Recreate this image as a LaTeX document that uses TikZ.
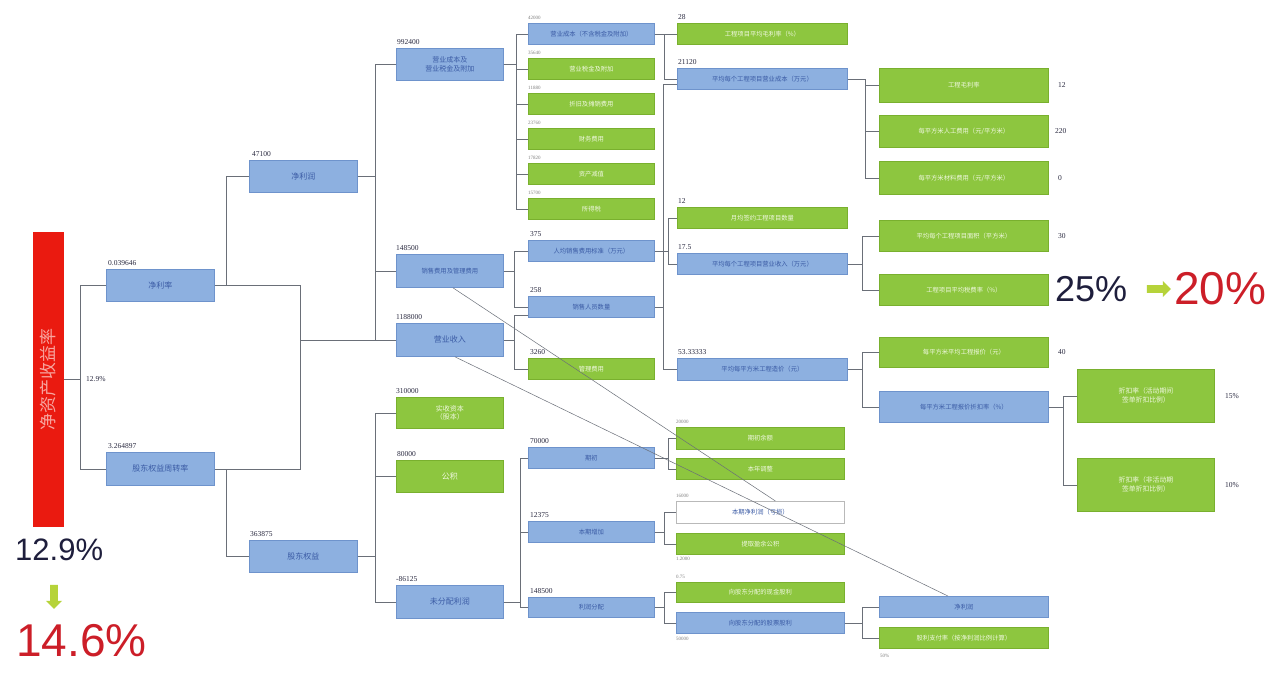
\documentclass[tikz,border=0pt]{standalone}
\usepackage{fontspec}
\setmainfont{Liberation Serif}
\newfontfamily\cjk{Noto Sans CJK SC}
\newfontfamily\arialf{Liberation Sans}
\usetikzlibrary{shapes.arrows,calc}
\definecolor{bfill}{HTML}{8DB0E0}
\definecolor{bdraw}{HTML}{6E93CC}
\definecolor{btext}{HTML}{3B5BA5}
\definecolor{gfill}{HTML}{8DC63F}
\definecolor{gdraw}{HTML}{79B02E}
\definecolor{gtext}{HTML}{F0F8E0}
\definecolor{redbar}{HTML}{EA1A10}
\definecolor{redtext}{HTML}{F7A6A0}
\definecolor{numc}{HTML}{2A2A40}
\definecolor{linec}{HTML}{6A6F78}
\definecolor{bigred}{HTML}{CC1E28}
\definecolor{bignavy}{HTML}{1E1E3C}
\definecolor{arrowg}{HTML}{B6D33A}
\begin{document}
\begin{tikzpicture}[x=1pt,y=-1pt,
  box/.style={draw, line width=0.8pt, inner sep=1pt, anchor=north west, align=center},
  bb/.style={box, fill=bfill, draw=bdraw, text=btext},
  gb/.style={box, fill=gfill, draw=gdraw, text=gtext},
  wb/.style={box, fill=white, draw=gray!55, text=btext},
  sz/.style 2 args={minimum width=#1pt, minimum height=#2pt},
  fa/.style={font=\cjk\fontsize{8}{9.5}\selectfont},
  fb/.style={font=\cjk\fontsize{6.3}{7.5}\selectfont},
  lab/.style={anchor=south west, inner sep=0, font=\fontsize{7.5}{8}\selectfont, text=numc},
  tlab/.style={anchor=south west, inner sep=0, font=\fontsize{5}{5}\selectfont, text=gray},
  val/.style={anchor=west, inner sep=0, font=\fontsize{7.5}{8}\selectfont, text=numc},
  conn/.style={draw=linec, line width=0.6pt},
  diag/.style={draw=linec, line width=0.5pt},
  big/.style={anchor=west, inner sep=0, font=\arialf\fontsize{#1}{#1}\selectfont},
  garrow/.style={single arrow, fill=arrowg, draw=none, minimum height=#1pt, minimum width=16pt, single arrow head extend=3.5pt, inner sep=3.2pt}
]
\useasboundingbox (0,0) rectangle (1280,676);
\fill[white] (0,0) rectangle (1280,676);

% bracket x positions
\coordinate (bx0) at (80,0);
\coordinate (bx1) at (226,0);
\coordinate (bx2) at (300,0);
\coordinate (bx3) at (375,0);
\coordinate (bx4) at (516,0);
\coordinate (bx5) at (514,0);
\coordinate (bx6) at (520,0);
\coordinate (bx7) at (664,0);
\coordinate (bx8) at (668,0);
\coordinate (bx9) at (663,0);
\coordinate (bx11) at (865,0);
\coordinate (bx12) at (862,0);
\coordinate (bx13) at (1063,0);

% root
\node[fill=redbar, rotate=90, minimum width=295pt, minimum height=31pt, inner sep=0, text=redtext,
      font=\cjk\fontsize{17}{17}\selectfont] (roe) at (48.5,379.5) {净资产收益率};
\node[val] (roev) at (86,379) {12.9\%};

% level 1
\node[bb, sz={108}{32}, fa] (A) at (106,269) {净利率};
\node[lab] (Al) at (108,266) {0.039646};
\node[bb, sz={108}{33}, fa] (B) at (106,452) {股东权益周转率};
\node[lab] (Bl) at (108,449) {3.264897};

% level 2
\node[bb, sz={108}{32}, fa] (np) at (249,160) {净利润};
\node[lab] (npl) at (252,157) {47100};
\node[bb, sz={108}{32}, fa] (eq) at (249,540) {股东权益};
\node[lab] (eql) at (250,537) {363875};

% level 3
\node[bb, sz={107}{32}, font=\cjk\fontsize{7}{8.5}\selectfont] (c1) at (396,48) {营业成本及\\营业税金及附加};
\node[lab] (c1l) at (397,45) {992400};
\node[bb, sz={107}{33}, fb] (c2) at (396,254) {销售费用及管理费用};
\node[lab] (c2l) at (396,251) {148500};
\node[bb, sz={107}{33}, fa] (rev) at (396,323) {营业收入};
\node[lab] (revl) at (396,320) {1188000};
\node[gb, sz={107}{31}, font=\cjk\fontsize{7}{8.5}\selectfont] (c4) at (396,397) {实收资本\\（股本）};
\node[lab] (c4l) at (396,394) {310000};
\node[gb, sz={107}{32}, fa] (c5) at (396,460) {公积};
\node[lab] (c5l) at (397,457) {80000};
\node[bb, sz={107}{33}, fa] (c6) at (396,585) {未分配利润};
\node[lab] (c6l) at (396,582) {-86125};

% level 4 (top)
\node[bb, sz={126}{21}, fb] (d1) at (528,23) {营业成本（不含税金及附加）};
\node[tlab] (d1l) at (528,20) {42000};
\node[gb, sz={126}{21}, fb] (d2) at (528,58) {营业税金及附加};
\node[tlab] (d2l) at (528,55) {35640};
\node[gb, sz={126}{21}, fb] (d3) at (528,93) {折旧及摊销费用};
\node[tlab] (d3l) at (528,90) {11880};
\node[gb, sz={126}{21}, fb] (d4) at (528,128) {财务费用};
\node[tlab] (d4l) at (528,125) {23760};
\node[gb, sz={126}{21}, fb] (d5) at (528,163) {资产减值};
\node[tlab] (d5l) at (528,160) {17820};
\node[gb, sz={126}{21}, fb] (d6) at (528,198) {所得税};
\node[tlab] (d6l) at (528,195) {15700};

% level 4 (middle)
\node[bb, sz={126}{21}, fb] (e1) at (528,240) {人均销售费用标准（万元）};
\node[lab] (e1l) at (530,237) {375};
\node[bb, sz={126}{21}, fb] (e2) at (528,296) {销售人员数量};
\node[lab] (e2l) at (530,293) {258};
\node[gb, sz={126}{21}, fb] (e3) at (528,358) {管理费用};
\node[lab] (e3l) at (530,355) {3260};

% level 4 (bottom)
\node[bb, sz={126}{21}, fb] (f1) at (528,447) {期初};
\node[lab] (f1l) at (530,444) {70000};
\node[bb, sz={126}{21}, fb] (f2) at (528,521) {本期增加};
\node[lab] (f2l) at (530,518) {12375};
\node[bb, sz={126}{20}, fb] (f3) at (528,597) {利润分配};
\node[lab] (f3l) at (530,594) {148500};

% level 5
\node[gb, sz={170}{21}, fb] (g1) at (677,23) {工程项目平均毛利率（\%）};
\node[lab] (g1l) at (678,20) {28};
\node[bb, sz={170}{21}, fb] (g2) at (677,68) {平均每个工程项目营业成本（万元）};
\node[lab] (g2l) at (678,65) {21120};
\node[gb, sz={170}{21}, fb] (h1) at (677,207) {月均签约工程项目数量};
\node[lab] (h1l) at (678,204) {12};
\node[bb, sz={170}{21}, fb] (h2) at (677,253) {平均每个工程项目营业收入（万元）};
\node[lab] (h2l) at (678,250) {17.5};
\node[bb, sz={170}{22}, fb] (h3) at (677,358) {平均每平方米工程造价（元）};
\node[lab] (h3l) at (678,355) {53.33333};

\node[gb, sz={168}{22}, fb] (i1) at (676,427) {期初余额};
\node[tlab] (i1l) at (676,424) {20000};
\node[gb, sz={168}{21}, fb] (i2) at (676,458) {本年调整};
\node[wb, sz={168}{22}, fb] (i3) at (676,501) {本期净利润（亏损）};
\node[tlab] (i3l) at (676,498) {16000};
\node[gb, sz={168}{21}, fb] (i4) at (676,533) {提取盈余公积};
\node[tlab, anchor=north west] (i4l) at (676,557) {1.2000};
\node[gb, sz={168}{20}, fb] (i5) at (676,582) {向股东分配的现金股利};
\node[tlab] (i5l) at (676,579) {0.75};
\node[bb, sz={168}{21}, fb] (i6) at (676,612) {向股东分配的股票股利};
\node[tlab, anchor=north west] (i6l) at (676,637) {50000};

% level 6
\node[gb, sz={169}{34}, fb] (j1) at (879,68) {工程毛利率};
\node[val] (j1v) at ([xshift=9pt]j1.east) {12};
\node[gb, sz={169}{32}, fb] (j2) at (879,115) {每平方米人工费用（元/平方米）};
\node[val] (j2v) at ([xshift=6pt]j2.east) {220};
\node[gb, sz={169}{33}, fb] (j3) at (879,161) {每平方米材料费用（元/平方米）};
\node[val] (j3v) at ([xshift=9pt]j3.east) {0};
\node[gb, sz={169}{31}, fb] (k1) at (879,220) {平均每个工程项目面积（平方米）};
\node[val] (k1v) at ([xshift=9pt]k1.east) {30};
\node[gb, sz={169}{31}, fb] (k2) at (879,274) {工程项目平均税费率（\%）};
\node[gb, sz={169}{30}, fb] (k3) at (879,337) {每平方米平均工程报价（元）};
\node[val] (k3v) at ([xshift=9pt]k3.east) {40};
\node[bb, sz={169}{31}, fb] (k4) at (879,391) {每平方米工程报价折扣率（\%）};
\node[bb, sz={169}{21}, fb] (m1) at (879,596) {净利润};
\node[gb, sz={169}{21}, fb] (m2) at (879,627) {股利支付率（按净利润比例计算）};
\node[tlab, anchor=north west] (m2l) at (880,654) {50\%};

% level 7
\node[gb, sz={137}{53}, font=\cjk\fontsize{6.8}{9}\selectfont] (n1) at (1077,369) {折扣率（活动期间\\签单折扣比例）};
\node[val] (n1v) at ([xshift=10pt]n1.east) {15\%};
\node[gb, sz={137}{53}, font=\cjk\fontsize{6.8}{9}\selectfont] (n2) at (1077,458) {折扣率（非活动期\\签单折扣比例）};
\node[val] (n2v) at ([xshift=10pt]n2.east) {10\%};

% big figures
\node[big=36, text=bignavy] (p25) at (1055,289) {25\%};
\node[garrow=24, shape border rotate=0] (ar1) at (1157,289) {};
\node[big=46, text=bigred] (p20) at (1174,289) {20\%};
\node[big=31, text=bignavy] (p129) at (15,550) {12.9\%};
\node[garrow=24, shape border rotate=270] (ar2) at (54,595) {};
\node[big=46, text=bigred] (p146) at (16,641) {14.6\%};

% connectors
\draw[conn] (roe.south) -- (roe.south -| bx0) |- (A.west);
\draw[conn] (roe.south -| bx0) |- (B.west);
\draw[conn] (A.east) -- (A.east -| bx1) |- (np.west);
\draw[conn] (B.east) -- (B.east -| bx1) |- (eq.west);
\draw[conn] (A.east -| bx1) -- (A.east -| bx2) |- (rev.west);
\draw[conn] (B.east -| bx1) -- (B.east -| bx2) |- (rev.west);

\foreach \c in {c1,c2,rev} \draw[conn] (np.east) -- (np.east -| bx3) |- (\c.west);
\foreach \c in {c4,c5,c6} \draw[conn] (eq.east) -- (eq.east -| bx3) |- (\c.west);

\foreach \c in {d1,d2,d3,d4,d5,d6} \draw[conn] (c1.east) -- (c1.east -| bx4) |- (\c.west);
\foreach \c in {e1,e2} \draw[conn] (c2.east) -- (c2.east -| bx5) |- (\c.west);
\draw[conn] (rev.east) -- (rev.east -| bx5) |- ([yshift=-8pt]e2.west);
\draw[conn] (rev.east -| bx5) |- (e3.west);
\foreach \c in {f1,f2,f3} \draw[conn] (c6.east) -- (c6.east -| bx6) |- (\c.west);

\foreach \c in {g1,g2} \draw[conn] (d1.east) -- (d1.east -| bx7) |- (\c.west);
\foreach \c in {h1,h2} \draw[conn] (e1.east) -- (e1.east -| bx8) |- (\c.west);
\draw[conn] (e2.east) -- (e2.east -| bx9) |- ([yshift=-5pt]g2.west);
\draw[conn] (e2.east -| bx9) |- (h3.west);
\foreach \c in {i1,i2} \draw[conn] (f1.east) -- (f1.east -| bx8) |- (\c.west);
\foreach \c in {i3,i4} \draw[conn] (f2.east) -- (f2.east -| bx7) |- (\c.west);
\foreach \c in {i5,i6} \draw[conn] (f3.east) -- (f3.east -| bx7) |- (\c.west);

\foreach \c in {j1,j2,j3} \draw[conn] (g2.east) -- (g2.east -| bx11) |- (\c.west);
\foreach \c in {k1,k2} \draw[conn] (h2.east) -- (h2.east -| bx12) |- (\c.west);
\foreach \c in {k3,k4} \draw[conn] (h3.east) -- (h3.east -| bx12) |- (\c.west);
\foreach \c in {m1,m2} \draw[conn] (i6.east) -- (i6.east -| bx12) |- (\c.west);
\foreach \c in {n1,n2} \draw[conn] (k4.east) -- (k4.east -| bx13) |- (\c.west);

% diagonal links
\draw[diag] ([xshift=3pt]c2.south) -- ([xshift=15pt]i3.north);
\draw[diag] ([xshift=5pt]rev.south) -- ([xshift=-16pt]m1.north);
\end{tikzpicture}
\end{document}
